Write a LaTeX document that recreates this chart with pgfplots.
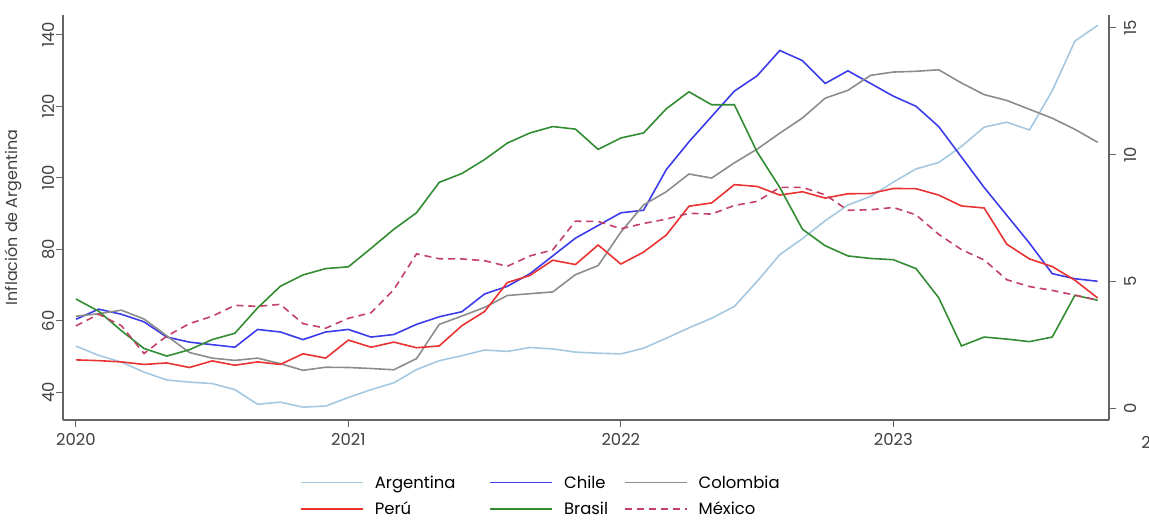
\documentclass[border=0pt]{standalone}
\usepackage{fontspec}
\setmainfont{Poppins}
\usepackage{pgfplots}
\pgfplotsset{compat=1.18}
\usepackage{pgfplotstable}
\definecolor{cArg}{RGB}{165,200,225}
\definecolor{cChi}{RGB}{60,60,235}
\definecolor{cCol}{RGB}{140,140,140}
\definecolor{cPer}{RGB}{235,50,50}
\definecolor{cBra}{RGB}{50,140,50}
\definecolor{cMex}{RGB}{195,65,100}
\definecolor{axgray}{RGB}{100,100,100}

\pgfplotstableread{
m arg
0 52.9
1 50.3
2 48.4
3 45.6
4 43.4
5 42.8
6 42.4
7 40.7
8 36.6
9 37.2
10 35.8
11 36.1
12 38.5
13 40.7
14 42.6
15 46.3
16 48.8
17 50.2
18 51.8
19 51.4
20 52.5
21 52.1
22 51.2
23 50.9
24 50.7
25 52.3
26 55.1
27 58.0
28 60.7
29 64.0
30 71.0
31 78.5
32 83.0
33 88.0
34 92.4
35 94.8
36 98.8
37 102.5
38 104.3
39 108.8
40 114.2
41 115.6
42 113.4
43 124.4
44 138.3
45 142.7
}\argdata

\pgfplotstableread{
m chi col per bra mex
0 3.5 3.62 1.90 4.30 3.24
1 3.9 3.72 1.87 3.82 3.70
2 3.7 3.86 1.82 3.05 3.25
3 3.4 3.51 1.72 2.35 2.15
4 2.8 2.85 1.78 2.05 2.84
5 2.6 2.19 1.60 2.30 3.33
6 2.5 1.97 1.86 2.70 3.62
7 2.4 1.88 1.69 2.95 4.05
8 3.1 1.97 1.82 3.95 4.01
9 3.0 1.75 1.72 4.80 4.09
10 2.7 1.49 2.14 5.25 3.33
11 3.0 1.61 1.97 5.50 3.15
12 3.1 1.60 2.68 5.57 3.54
13 2.8 1.56 2.40 6.30 3.76
14 2.9 1.51 2.60 7.05 4.67
15 3.3 1.95 2.38 7.70 6.08
16 3.6 3.30 2.45 8.90 5.89
17 3.8 3.63 3.25 9.25 5.88
18 4.5 3.97 3.81 9.80 5.81
19 4.8 4.44 4.95 10.45 5.59
20 5.3 4.51 5.23 10.85 6.00
21 6.0 4.58 5.83 11.10 6.24
22 6.7 5.26 5.66 11.00 7.37
23 7.2 5.62 6.43 10.20 7.36
24 7.7 6.94 5.68 10.65 7.07
25 7.8 8.01 6.15 10.85 7.28
26 9.4 8.53 6.82 11.80 7.45
27 10.5 9.23 7.96 12.47 7.68
28 11.5 9.07 8.09 11.96 7.65
29 12.5 9.67 8.81 11.96 7.99
30 13.1 10.21 8.74 10.10 8.15
31 14.1 10.84 8.40 8.70 8.70
32 13.7 11.44 8.53 7.05 8.70
33 12.8 12.22 8.28 6.40 8.41
34 13.3 12.53 8.45 6.00 7.80
35 12.8 13.12 8.46 5.90 7.82
36 12.3 13.25 8.66 5.85 7.91
37 11.9 13.28 8.65 5.50 7.62
38 11.1 13.34 8.40 4.35 6.85
39 9.9 12.82 7.97 2.45 6.25
40 8.7 12.36 7.89 2.80 5.84
41 7.6 12.13 6.46 2.72 5.06
42 6.5 11.78 5.88 2.62 4.79
43 5.3 11.43 5.58 2.80 4.64
44 5.1 10.99 5.04 4.45 4.45
45 5.0 10.48 4.34 4.25 4.26
}\others

\begin{document}
\begin{tikzpicture}[font=\fontsize{16}{19}\selectfont]
\pgfplotsset{
  base/.style={
    scale only axis, width=1046bp, height=405bp,
    xmin=-0.57, xmax=45.5,
    axis line style={draw=axgray, line width=1.1bp},
    tick style={draw=axgray, line width=1bp},
    tick align=outside, major tick length=7bp,
    /pgf/number format/assume math mode=true,
    tick label style={font=\fontsize{16.5}{19}\selectfont, text=black!75},
    every axis plot/.append style={line width=1.6bp},
  }
}
\begin{axis}[base,
  ymin=32.2, ymax=145.6,
  axis x line*=bottom, axis y line*=left,
  xtick={0,12,24,36}, xticklabels={2020,2021,2022,2023},
  xticklabel shift=3bp,
  ytick={40,60,80,100,120,140},
  yticklabel style={rotate=90, anchor=south},
  yticklabel shift=-2bp,
  ylabel={Inflación de Argentina},
  every axis y label/.style={at={(rel axis cs:-0.036,0.5)}, rotate=90, anchor=south},
  ylabel style={font=\fontsize{16}{19}\selectfont, text=black!75},
]
\addplot[cArg, no markers] table[x=m, y=arg] {\argdata};
\coordinate (BL) at (rel axis cs:0,0);
\coordinate (TR) at (rel axis cs:1,1);
\coordinate (X24) at (axis cs:47.8,32.2);
\end{axis}
\begin{axis}[base,
  ymin=-0.47, ymax=15.5,
  axis x line=none, axis y line*=right,
  ytick={0,5,10,15},
  yticklabel style={rotate=90, anchor=north},
  yticklabel shift=5bp,
  legend columns=3,
  legend style={draw=none, fill=none, at={(0.2266,-0.132)}, anchor=north west,
    inner sep=0pt, font=\fontsize{16.5}{19}\selectfont,
    /tikz/every odd column/.append style={column sep=9bp},
    /tikz/column 2/.append style={column sep=32bp},
    /tikz/column 4/.append style={column sep=14bp},
    row sep=8bp},
  legend cell align=left,
  legend image code/.code={\draw[#1] (0bp,0bp) -- (62bp,0bp);},
]
\addlegendimage{draw=cArg, line width=1.6bp}
\addlegendentry{Argentina}
\addlegendimage{draw=cChi, line width=1.6bp}
\addlegendentry{Chile}
\addlegendimage{draw=cCol, line width=1.6bp}
\addlegendentry{Colombia}
\addlegendimage{draw=cPer, line width=1.6bp}
\addlegendentry{Perú}
\addlegendimage{draw=cBra, line width=1.6bp}
\addlegendentry{Brasil}
\addlegendimage{draw=cMex, line width=1.6bp, dash pattern=on 7bp off 5bp}
\addlegendentry{México}
\addplot[cChi, no markers, forget plot] table[x=m, y=chi] {\others};
\addplot[cCol, no markers, forget plot] table[x=m, y=col] {\others};
\addplot[cPer, no markers, forget plot] table[x=m, y=per] {\others};
\addplot[cBra, no markers, forget plot] table[x=m, y=bra] {\others};
\addplot[cMex, no markers, forget plot, dash pattern=on 7bp off 5bp] table[x=m, y=mex] {\others};
\end{axis}
\node[anchor=north, yshift=-13bp, text=black!75, font=\fontsize{16.5}{19}\selectfont] at (X24) {2024};
\pgfresetboundingbox
\useasboundingbox ([shift={(-63bp,-101bp)}]BL) rectangle ([shift={(40bp,15bp)}]TR);
\end{tikzpicture}
\end{document}
